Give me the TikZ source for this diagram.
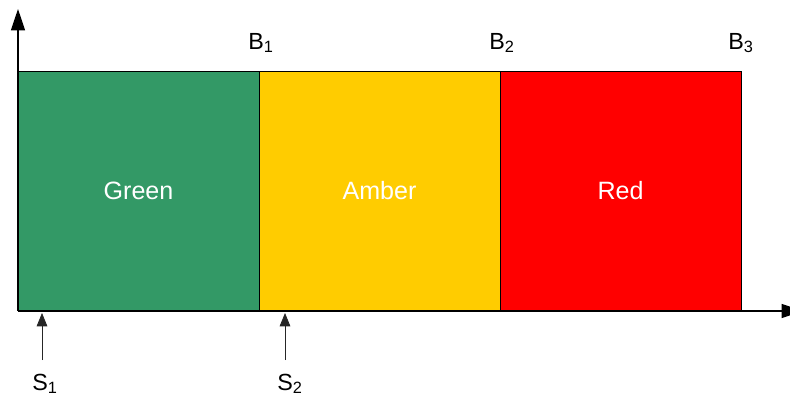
\documentclass[tikz,border=0pt]{standalone}
\usepackage{fontspec}
\setmainfont{Liberation Sans}
\usepackage{tikz}
\usetikzlibrary{arrows, arrows.meta}
\usetikzlibrary{positioning}
\definecolor{zonegreen}{RGB}{51,153,102}
\definecolor{zoneamber}{RGB}{255,204,0}
\definecolor{zonered}{RGB}{255,0,0}

\begin{document}
\begin{tikzpicture}[x=0.75pt,y=-0.75pt]
\tikzstyle{every node}+=[inner sep=0pt]
\tikzstyle{zone}=[draw=black, line width=0.6pt, minimum width=180.75pt, minimum height=180pt, text=white, font=\fontsize{18.8}{20}\selectfont]
\tikzstyle{axis}=[black, line width=0.9pt, -{Triangle[length=16pt,width=10.5pt]}]
\tikzstyle{marker}=[black!85, line width=0.6pt, -{Triangle[length=10pt,width=8pt]}]
\tikzstyle{lbl}=[font=\fontsize{17.5}{19}\selectfont]
\useasboundingbox (0,0) rectangle (790,396);
\node [zone, fill=zonegreen] (green) at (138.5,191) {Green};
\node [zone, fill=zoneamber] (amber) at (379.5,191) {Amber};
\node [zone, fill=zonered] (red) at (620.5,191) {Red};
\coordinate (o) at (18,311);
\coordinate (ytop) at (18,9);
\coordinate (xend) at (803,311);
\draw [axis] (o) -- (ytop);
\draw [axis] (o) -- (xend);
\node [lbl] (b1) at (261,43) {B\textsubscript{1}};
\node [lbl] (b2) at (502,43) {B\textsubscript{2}};
\node [lbl] (b3) at (741,43) {B\textsubscript{3}};
\coordinate (s1top) at (42,313);
\coordinate (s1bot) at (42,360);
\coordinate (s2top) at (285,313);
\coordinate (s2bot) at (285,360);
\draw [marker] (s1bot) -- (s1top);
\draw [marker] (s2bot) -- (s2top);
\node [lbl] (s1) at (45,384) {S\textsubscript{1}};
\node [lbl] (s2) at (290,384) {S\textsubscript{2}};
\end{tikzpicture}
\end{document}
